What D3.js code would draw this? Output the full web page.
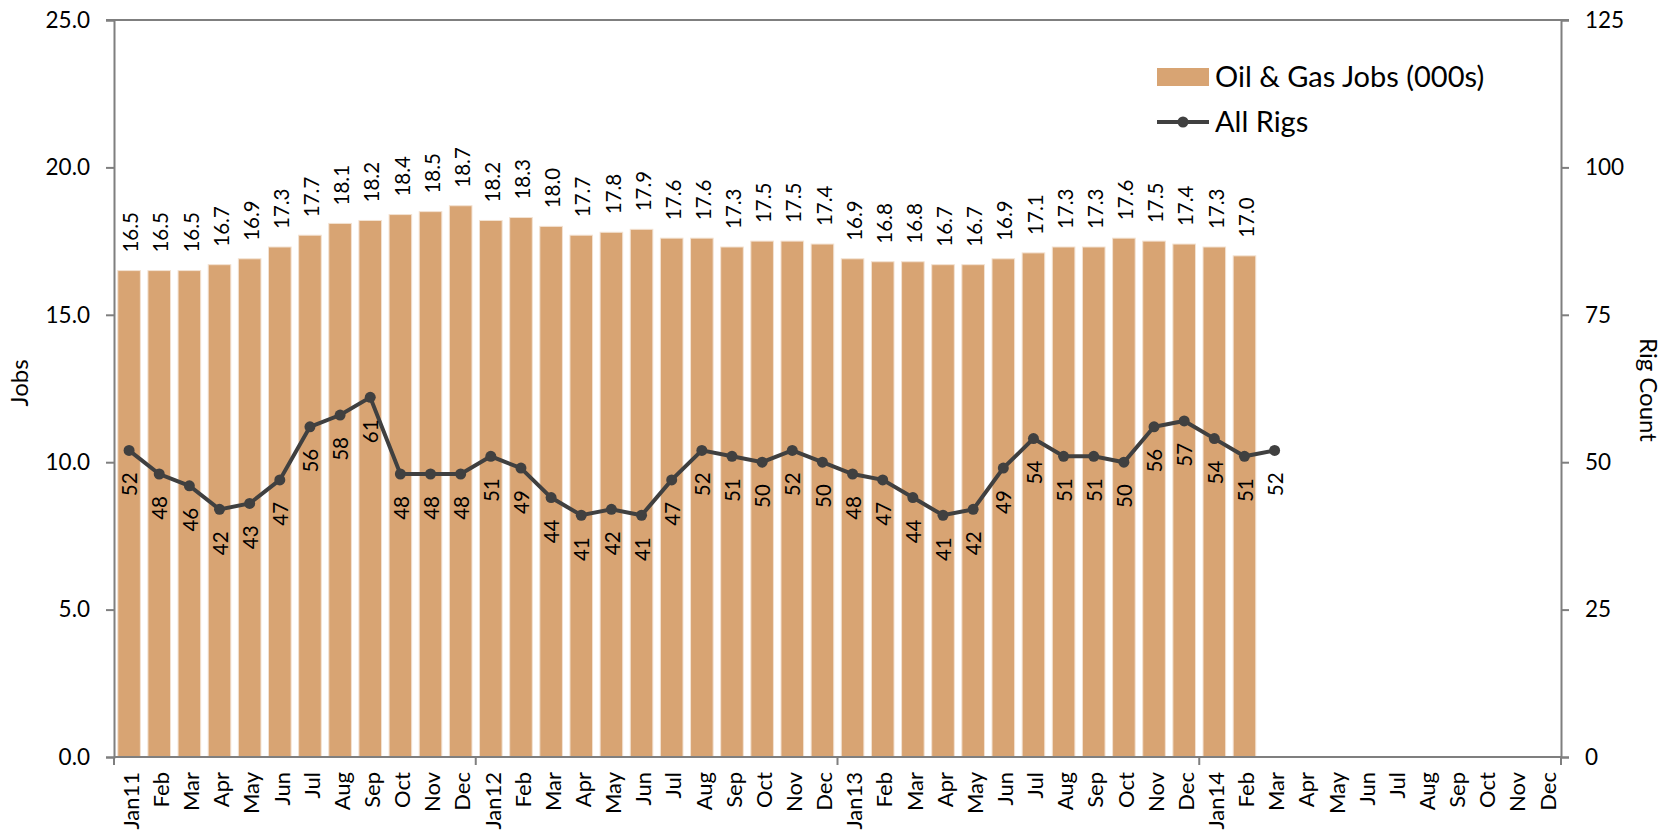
<!DOCTYPE html>
<html lang="en">
<head>
<meta charset="utf-8">
<script src="https://d3js.org/d3.v7.min.js"></script>
<title>Oil & Gas Jobs and Rigs</title>
<style>
  body { margin: 0; background: #fff; }
  svg text { font-family: Lato, "Open Sans", sans-serif; fill: #000; }
</style>
</head>
<body>
<div id="chart"></div>
<script>
// months Jan 2011 .. Dec 2014
const months = ["Jan11","Feb","Mar","Apr","May","Jun","Jul","Aug","Sep","Oct","Nov","Dec",
                "Jan12","Feb","Mar","Apr","May","Jun","Jul","Aug","Sep","Oct","Nov","Dec",
                "Jan13","Feb","Mar","Apr","May","Jun","Jul","Aug","Sep","Oct","Nov","Dec",
                "Jan14","Feb","Mar","Apr","May","Jun","Jul","Aug","Sep","Oct","Nov","Dec"];
const jobs = [16.5,16.5,16.5,16.7,16.9,17.3,17.7,18.1,18.2,18.4,18.5,18.7,
              18.2,18.3,18.0,17.7,17.8,17.9,17.6,17.6,17.3,17.5,17.5,17.4,
              16.9,16.8,16.8,16.7,16.7,16.9,17.1,17.3,17.3,17.6,17.5,17.4,
              17.3,17.0];
const rigs = [52,48,46,42,43,47,56,58,61,48,48,48,
              51,49,44,41,42,41,47,52,51,50,52,50,
              48,47,44,41,42,49,54,51,51,50,56,57,
              54,51,52];
const jobTicks = [0,5,10,15,20,25];
const rigTicks = [0,25,50,75,100,125];

const W = 1669, H = 833;
const pLeft = 114, pRight = 1561, pTop = 20, pBottom = 757;
const barColor = "#D8A473", lineColor = "#404040", axisColor = "#7f7f7f";

const svg = d3.select("#chart").append("svg").attr("width", W).attr("height", H);

const ids = months.map((m, i) => i);
const x = d3.scaleBand().domain(ids).range([pLeft, pRight]).paddingInner(0.25).paddingOuter(0.125);
const yL = d3.scaleLinear().domain([0, 25]).range([pBottom, pTop]);
const yR = d3.scaleLinear().domain([0, 125]).range([pBottom, pTop]);
const cx = i => x(i) + x.bandwidth() / 2;

// bars
svg.append("g").selectAll("rect")
  .data(jobs)
  .enter()
  .append("rect")
  .attr("x", (d, i) => x(i))
  .attr("width", x.bandwidth())
  .attr("y", d => yL(d))
  .attr("height", d => yL(0) - yL(d))
  .attr("fill", barColor)
  .attr("stroke", "#f3e2d2")
  .attr("stroke-width", 1);

// bar labels
svg.append("g").selectAll("text")
  .data(jobs)
  .enter()
  .append("text")
  .attr("transform", (d, i) => "translate(" + (cx(i) + 2) + "," + (yL(d) - 18) + ") rotate(-90)")
  .attr("dy", "0.35em")
  .style("font-size", "20.5px")
  .text(d => d.toFixed(1));

// left axis
const axL = svg.append("g").attr("transform", "translate(" + pLeft + ",0)")
  .call(d3.axisLeft(yL).tickValues(jobTicks).tickFormat(d3.format(".1f")).tickSize(8).tickPadding(16));
axL.selectAll("text").style("font-size", "22.5px");

// right axis
const axR = svg.append("g").attr("transform", "translate(" + pRight + ",0)")
  .call(d3.axisRight(yR).tickValues(rigTicks).tickSize(8).tickPadding(16));
axR.selectAll("text").style("font-size", "22.5px");

// bottom axis: ticks only at year boundaries
const axB = svg.append("g").attr("transform", "translate(0," + pBottom + ")");
axB.append("line").attr("x1", pLeft).attr("x2", pRight).attr("stroke", axisColor).attr("stroke-width", 2);
axB.selectAll("line.yr")
  .data([0, 12, 24, 36, 48])
  .enter()
  .append("line")
  .attr("class", "yr")
  .attr("x1", d => d < 48 ? x(d) - x.step() * x.paddingInner() / 2 : pRight)
  .attr("x2", d => d < 48 ? x(d) - x.step() * x.paddingInner() / 2 : pRight)
  .attr("y1", 0).attr("y2", 8)
  .attr("stroke", axisColor).attr("stroke-width", 2);
axB.selectAll("text")
  .data(months)
  .enter()
  .append("text")
  .attr("transform", (d, i) => "translate(" + (cx(i) + 2) + ",15) rotate(-90)")
  .attr("dy", "0.35em")
  .attr("text-anchor", "end")
  .style("font-size", "22px")
  .text(d => d);

// style axis lines
svg.selectAll(".domain").attr("stroke", axisColor).attr("stroke-width", 2);
svg.selectAll(".tick line").attr("stroke", axisColor).attr("stroke-width", 2);

// top frame line
svg.append("line").attr("x1", pLeft - 8).attr("x2", pRight + 8).attr("y1", pTop).attr("y2", pTop)
  .attr("stroke", axisColor).attr("stroke-width", 2);

// rig line
const line = d3.line().x((d, i) => cx(i)).y(d => yR(d));
svg.append("path").datum(rigs).attr("d", line)
  .attr("fill", "none").attr("stroke", lineColor).attr("stroke-width", 4);
svg.append("g").selectAll("circle")
  .data(rigs)
  .enter()
  .append("circle")
  .attr("cx", (d, i) => cx(i))
  .attr("cy", d => yR(d))
  .attr("r", 5.5)
  .attr("fill", lineColor);
svg.append("g").selectAll("text")
  .data(rigs)
  .enter()
  .append("text")
  .attr("transform", (d, i) => "translate(" + (cx(i) + 1) + "," + (yR(d) + 22) + ") rotate(-90)")
  .attr("dy", "0.35em")
  .attr("text-anchor", "end")
  .style("font-size", "20.5px")
  .text(d => d);

// axis titles
svg.append("text").attr("transform", "translate(20,383) rotate(-90)")
  .attr("text-anchor", "middle").attr("dy", "0.35em").style("font-size", "24px").text("Jobs");
svg.append("text").attr("transform", "translate(1648,390) rotate(90)")
  .attr("text-anchor", "middle").attr("dy", "0.35em").style("font-size", "24px").text("Rig Count");

// legend
const lg = svg.append("g");
lg.append("rect").attr("x", 1157).attr("y", 68).attr("width", 52).attr("height", 18).attr("fill", barColor);
lg.append("text").attr("x", 1215).attr("y", 77).attr("dy", "0.35em").style("font-size", "29px").text("Oil & Gas Jobs (000s)");
lg.append("line").attr("x1", 1157).attr("x2", 1209).attr("y1", 122).attr("y2", 122)
  .attr("stroke", lineColor).attr("stroke-width", 4);
lg.append("circle").attr("cx", 1183).attr("cy", 122).attr("r", 5.5).attr("fill", lineColor);
lg.append("text").attr("x", 1215).attr("y", 122).attr("dy", "0.35em").style("font-size", "29px").text("All Rigs");
</script>
</body>
</html>
